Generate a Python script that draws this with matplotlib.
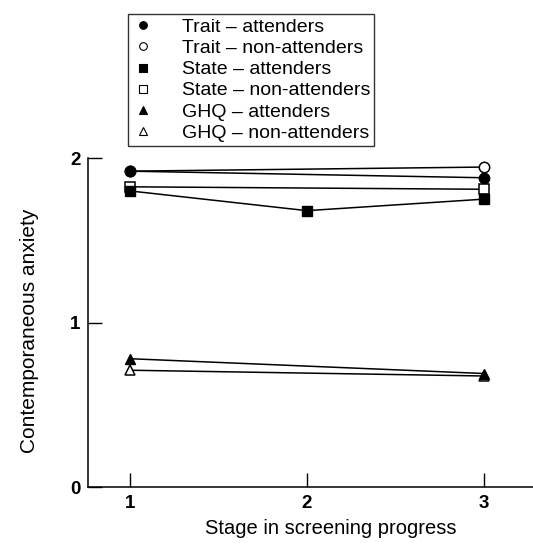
import matplotlib.pyplot as plt
from matplotlib.lines import Line2D

plt.rcParams['font.family'] = ['Liberation Sans', 'DejaVu Sans']

# Stage in screening progress (x) and contemporaneous anxiety (y)
stages_13 = [1, 3]
stages_123 = [1, 2, 3]

trait_att = [1.92, 1.88]
trait_non = [1.92, 1.945]
state_att = [1.80, 1.68, 1.75]
state_non = [1.825, 1.81]
ghq_att = [0.78, 0.69]
ghq_non = [0.71, 0.675]

labels = ['Trait \u2013 attenders', 'Trait \u2013 non-attenders',
          'State \u2013 attenders', 'State \u2013 non-attenders',
          'GHQ \u2013 attenders', 'GHQ \u2013 non-attenders']

fig = plt.figure(figsize=(5.33, 5.46), dpi=100)
ax = fig.add_axes([0.165, 0.108, 0.835, 0.6026])

lw = 1.1
ms = 7.5
# non-attenders first so the filled markers sit on top
ax.plot(stages_13, trait_non, color='black', lw=lw, marker='o', ms=ms,
        mfc='white', mec='black', mew=1.1, clip_on=False)
ax.plot(stages_13, trait_att, color='black', lw=lw, marker='o', ms=ms,
        mfc='black', mec='black', clip_on=False)
ax.plot(stages_13, state_non, color='black', lw=lw, marker='s', ms=7,
        mfc='white', mec='black', mew=1.1, clip_on=False)
ax.plot(stages_123, state_att, color='black', lw=lw, marker='s', ms=7,
        mfc='black', mec='black', clip_on=False)
ax.plot(stages_13, ghq_non, color='black', lw=lw, marker='^', ms=ms,
        mfc='white', mec='black', mew=1.1, clip_on=False)
ax.plot(stages_13, ghq_att, color='black', lw=lw, marker='^', ms=ms,
        mfc='black', mec='black', clip_on=False)

ax.set_xlim(0.763, 3.277)
ax.set_ylim(0, 2)
ax.set_xticks([1, 2, 3])
ax.set_yticks([0, 1, 2])
ax.tick_params(direction='in', length=10, width=1, pad=5.5, labelsize=13.5)
for t in ax.get_xticklabels() + ax.get_yticklabels():
    t.set_fontweight('bold')
ax.spines['top'].set_visible(False)
ax.spines['right'].set_visible(False)
ax.spines['left'].set_linewidth(1.1)
ax.spines['bottom'].set_linewidth(1.1)

ax.set_xlabel('Stage in screening progress', fontsize=14.5)
ax.xaxis.set_label_coords(0.545, -0.097)
ax.set_ylabel('Contemporaneous anxiety', fontsize=15)
ax.yaxis.set_label_coords(-0.11, 0.475)

markers = [('o', 'black'), ('o', 'white'), ('s', 'black'),
           ('s', 'white'), ('^', 'black'), ('^', 'white')]
handles = [Line2D([], [], ls='none', marker=m, ms=5.5, mfc=f, mec='black', mew=0.8)
           for m, f in markers]
leg = fig.legend(handles, labels, loc='upper left', bbox_to_anchor=(0.240, 0.974),
                 borderaxespad=0, fontsize=14, frameon=True, fancybox=False,
                 edgecolor='black', handlelength=1.1, handletextpad=1.45,
                 labelspacing=0.18, borderpad=0.22)
leg.get_frame().set_linewidth(1.0)

fig.savefig('out.png', dpi=100)
